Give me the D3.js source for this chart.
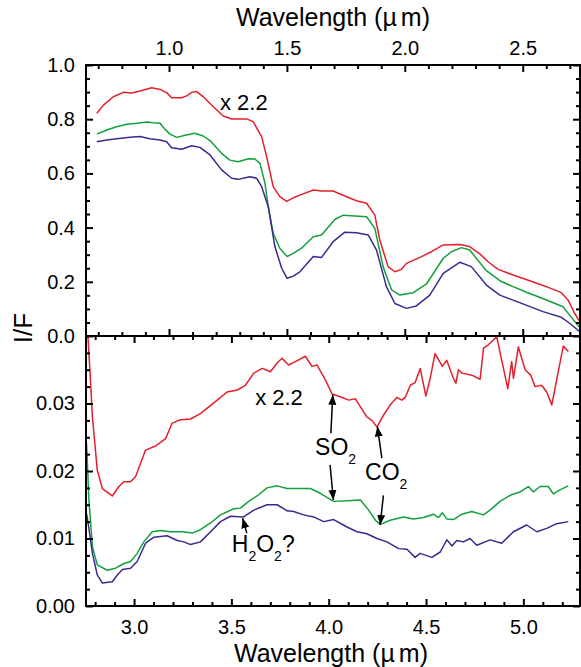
<!DOCTYPE html>
<html><head><meta charset="utf-8">
<script src="https://cdn.jsdelivr.net/npm/d3@7"></script>
<style>
html,body{margin:0;padding:0;background:#fff;}
svg{display:block;font-family:"Liberation Sans",Arial,sans-serif;}
</style></head>
<body>
<svg id="chart" width="581" height="667"></svg>
<script>
// ---------- DATA ----------
// Top panel (0.65 - 2.74 µm)
const topRedWl = [0.694,0.722,0.764,0.806,0.842,0.877,0.927,0.962,0.990,1.011,1.054,1.075,1.096,1.117,1.145,1.188,1.230,1.266,1.329,1.357,1.393,1.414,1.442,1.470,1.499,1.527,1.555,1.612,1.647,1.696,1.753,1.795,1.838,1.873,1.894,1.929,1.958,1.986,2.007,2.064,2.113,2.163,2.233,2.275,2.318,2.353,2.396,2.459,2.530,2.601,2.664,2.692,2.720,2.742];
const topRedVal = [0.822,0.852,0.883,0.899,0.897,0.904,0.916,0.910,0.898,0.879,0.879,0.886,0.899,0.902,0.883,0.846,0.812,0.801,0.801,0.791,0.735,0.662,0.551,0.514,0.497,0.510,0.520,0.539,0.535,0.535,0.514,0.499,0.490,0.446,0.354,0.256,0.237,0.246,0.268,0.290,0.311,0.336,0.338,0.330,0.303,0.274,0.246,0.225,0.204,0.182,0.160,0.133,0.084,0.053];

const topGreenWl = [0.694,0.736,0.778,0.821,0.863,0.906,0.933,0.962,0.983,1.004,1.033,1.068,1.110,1.145,1.174,1.223,1.258,1.294,1.336,1.364,1.386,1.407,1.421,1.442,1.470,1.501,1.527,1.562,1.612,1.647,1.703,1.739,1.838,1.873,1.908,1.944,1.979,2.036,2.092,2.163,2.198,2.240,2.275,2.346,2.403,2.459,2.530,2.601,2.671,2.699,2.727,2.745];
const topGreenVal = [0.745,0.760,0.772,0.781,0.785,0.790,0.787,0.785,0.763,0.745,0.733,0.741,0.748,0.738,0.721,0.674,0.649,0.643,0.654,0.653,0.637,0.563,0.477,0.379,0.324,0.293,0.305,0.324,0.366,0.373,0.430,0.446,0.440,0.397,0.256,0.170,0.151,0.160,0.192,0.287,0.311,0.326,0.317,0.241,0.204,0.182,0.157,0.133,0.108,0.077,0.047,0.030];

const topBlueWl = [0.694,0.736,0.778,0.835,0.877,0.919,0.962,0.990,1.011,1.054,1.096,1.131,1.174,1.223,1.266,1.294,1.343,1.372,1.393,1.421,1.449,1.478,1.501,1.527,1.555,1.612,1.647,1.696,1.746,1.795,1.845,1.880,1.922,1.958,2.007,2.049,2.106,2.163,2.233,2.282,2.346,2.403,2.487,2.586,2.664,2.699,2.742];
const topBlueVal = [0.717,0.723,0.728,0.733,0.736,0.728,0.723,0.717,0.695,0.689,0.702,0.696,0.668,0.613,0.582,0.578,0.588,0.582,0.551,0.477,0.330,0.250,0.213,0.221,0.237,0.293,0.290,0.348,0.383,0.381,0.373,0.317,0.182,0.120,0.102,0.111,0.151,0.231,0.272,0.256,0.188,0.151,0.123,0.090,0.069,0.047,0.016];

// Bottom panel (2.75 - 5.29 µm)
const botRedWl = [2.758,2.763,2.773,2.786,2.811,2.837,2.888,2.922,2.948,2.982,3.008,3.059,3.110,3.162,3.196,3.239,3.290,3.341,3.384,3.427,3.478,3.530,3.572,3.615,3.658,3.700,3.735,3.760,3.794,3.829,3.880,3.914,3.940,3.983,4.017,4.060,4.102,4.137,4.163,4.196,4.222,4.248,4.282,4.316,4.350,4.376,4.393,4.419,4.444,4.470,4.499,4.521,4.546,4.584,4.606,4.641,4.653,4.667,4.684,4.735,4.778,4.795,4.820,4.863,4.889,4.920,4.940,4.949,4.974,5.009,5.038,5.060,5.094,5.120,5.146,5.205,5.231];
const botRedVal = [0.0420,0.0399,0.0350,0.0280,0.0201,0.0174,0.0163,0.0177,0.0184,0.0184,0.0192,0.0231,0.0237,0.0248,0.0271,0.0276,0.0277,0.0285,0.0295,0.0305,0.0317,0.0320,0.0327,0.0345,0.0352,0.0347,0.0360,0.0367,0.0357,0.0362,0.0370,0.0355,0.0357,0.0335,0.0314,0.0310,0.0305,0.0307,0.0295,0.0280,0.0275,0.0265,0.0283,0.0298,0.0309,0.0305,0.0309,0.0327,0.0331,0.0352,0.0311,0.0337,0.0374,0.0355,0.0364,0.0337,0.0330,0.0350,0.0345,0.0342,0.0336,0.0382,0.0387,0.0399,0.0364,0.0322,0.0362,0.0337,0.0384,0.0350,0.0342,0.0325,0.0327,0.0317,0.0298,0.0385,0.0377];

const botGreenWl = [2.756,2.768,2.786,2.811,2.862,2.905,2.948,2.982,3.016,3.050,3.093,3.136,3.187,3.247,3.299,3.341,3.393,3.444,3.512,3.546,3.589,3.632,3.683,3.735,3.786,3.837,3.906,3.957,4.025,4.094,4.163,4.205,4.240,4.265,4.316,4.384,4.436,4.487,4.538,4.564,4.584,4.607,4.641,4.684,4.735,4.795,4.829,4.880,4.932,4.983,5.026,5.051,5.086,5.128,5.154,5.188,5.231];
const botGreenVal = [0.0241,0.0157,0.0088,0.0061,0.0053,0.0056,0.0063,0.0066,0.0078,0.0095,0.0110,0.0112,0.0110,0.0110,0.0108,0.0113,0.0123,0.0135,0.0144,0.0145,0.0155,0.0163,0.0175,0.0178,0.0174,0.0174,0.0174,0.0167,0.0155,0.0156,0.0157,0.0142,0.0127,0.0121,0.0127,0.0132,0.0129,0.0131,0.0136,0.0131,0.0138,0.0129,0.0128,0.0136,0.0140,0.0135,0.0142,0.0155,0.0164,0.0169,0.0177,0.0169,0.0177,0.0177,0.0166,0.0172,0.0178];

const botBlueWl = [2.756,2.768,2.786,2.811,2.837,2.888,2.914,2.940,2.982,3.016,3.059,3.102,3.170,3.222,3.256,3.290,3.341,3.393,3.444,3.495,3.563,3.615,3.683,3.735,3.786,3.820,3.871,3.923,3.974,4.025,4.094,4.145,4.196,4.248,4.299,4.359,4.402,4.444,4.470,4.530,4.573,4.607,4.633,4.658,4.692,4.726,4.761,4.829,4.889,4.949,5.017,5.069,5.120,5.171,5.231];
const botBlueVal = [0.0137,0.0115,0.0078,0.0046,0.0034,0.0036,0.0046,0.0054,0.0056,0.0066,0.0093,0.0102,0.0104,0.0097,0.0095,0.0091,0.0095,0.0110,0.0125,0.0133,0.0132,0.0142,0.0150,0.0150,0.0141,0.0140,0.0135,0.0132,0.0125,0.0128,0.0117,0.0110,0.0107,0.0100,0.0095,0.0085,0.0084,0.0072,0.0078,0.0072,0.0080,0.0098,0.0089,0.0097,0.0095,0.0100,0.0090,0.0098,0.0093,0.0110,0.0120,0.0110,0.0115,0.0122,0.0125];

// Ticks
const topXMajor = [1.0,1.5,2.0,2.5];
const topXLabels = ["1.0","1.5","2.0","2.5"];
const topXMinor = [0.7,0.8,0.9,1.1,1.2,1.3,1.4,1.6,1.7,1.8,1.9,2.1,2.2,2.3,2.4,2.6,2.7];
const botXMajor = [3.0,3.5,4.0,4.5,5.0];
const botXLabels = ["3.0","3.5","4.0","4.5","5.0"];
const botXMinor = [2.8,2.9,3.1,3.2,3.3,3.4,3.6,3.7,3.8,3.9,4.1,4.2,4.3,4.4,4.6,4.7,4.8,4.9,5.1,5.2];
const topYMajor = [0,0.2,0.4,0.6,0.8,1.0];
const topYLabels = ["0.0","0.2","0.4","0.6","0.8","1.0"];
const topYMinor = [0.05,0.1,0.15,0.25,0.3,0.35,0.45,0.5,0.55,0.65,0.7,0.75,0.85,0.9,0.95];
const botYMajor = [0,0.01,0.02,0.03];
const botYLabels = ["0.00","0.01","0.02","0.03"];
const botYMinor = [0.0025,0.005,0.0075,0.0125,0.015,0.0175,0.0225,0.025,0.0275,0.0325,0.035,0.0375];

const colors = {red:"#e3202b", green:"#13a03c", blue:"#3a2a8c"};

// ---------- LAYOUT ----------
const L=86, R=580, T=65, M=336, B=606;
const svg = d3.select("#chart");
const xTop = d3.scaleLinear([0.648,2.743],[L,R]);
const xBot = d3.scaleLinear([2.753,5.291],[L,R]);
const yTop = d3.scaleLinear([0,1],[M,T]);
const yBot = d3.scaleLinear([0,0.04],[B,M]);

const defs = svg.append("defs");
defs.append("clipPath").attr("id","clipTop").append("rect").attr("x",L).attr("y",T).attr("width",R-L).attr("height",M-T);
defs.append("clipPath").attr("id","clipBot").append("rect").attr("x",L).attr("y",M).attr("width",R-L).attr("height",B-M);
defs.append("marker").attr("id","arrow").attr("viewBox","0 0 10 10").attr("refX",10).attr("refY",5)
  .attr("markerWidth",10).attr("markerHeight",10).attr("markerUnits","userSpaceOnUse").attr("orient","auto")
  .append("path").attr("d","M0,1 L10,5 L0,9 Z").attr("fill","#000");

function drawLine(clip, xs, ys, wl, val, col){
  const data = wl.map((w,i)=>[w,val[i]]);
  svg.append("path").datum(data).attr("clip-path",`url(#${clip})`)
    .attr("fill","none").attr("stroke",col).attr("stroke-width",1.5).attr("stroke-linejoin","round")
    .attr("d", d3.line().x(d=>xs(d[0])).y(d=>ys(d[1])));
}
drawLine("clipTop", xTop, yTop, topRedWl, topRedVal, colors.red);
drawLine("clipTop", xTop, yTop, topGreenWl, topGreenVal, colors.green);
drawLine("clipTop", xTop, yTop, topBlueWl, topBlueVal, colors.blue);
drawLine("clipBot", xBot, yBot, botRedWl, botRedVal, colors.red);
drawLine("clipBot", xBot, yBot, botGreenWl, botGreenVal, colors.green);
drawLine("clipBot", xBot, yBot, botBlueWl, botBlueVal, colors.blue);

// ---------- AXES ----------
function styleAxis(g){
  g.select(".domain").remove();
  g.selectAll(".tick line").attr("stroke","#000").attr("stroke-width",2);
  g.selectAll(".tick text").attr("fill","#000").style("font-size","20px").style("font-family",'"Liberation Sans",Arial,sans-serif');
}
function addAxis(axis, tx, ty){
  svg.append("g").attr("transform",`translate(${tx},${ty})`).call(axis).call(styleAxis);
}
const MJ=7, MN=4;
addAxis(d3.axisTop(xTop).tickValues(topXMajor).tickFormat((d,i)=>topXLabels[i]).tickSize(-MJ).tickPadding(10).tickSizeOuter(0),0,T);
addAxis(d3.axisTop(xTop).tickValues(topXMinor).tickFormat("").tickSize(-MN).tickSizeOuter(0),0,T);
addAxis(d3.axisBottom(xTop).tickValues(topXMajor).tickFormat("").tickSize(-MJ).tickSizeOuter(0),0,M);
addAxis(d3.axisBottom(xTop).tickValues(topXMinor).tickFormat("").tickSize(-MN).tickSizeOuter(0),0,M);
addAxis(d3.axisTop(xBot).tickValues(botXMajor).tickFormat("").tickSize(-MJ).tickSizeOuter(0),0,M);
addAxis(d3.axisTop(xBot).tickValues(botXMinor).tickFormat("").tickSize(-MN).tickSizeOuter(0),0,M);
addAxis(d3.axisBottom(xBot).tickValues(botXMajor).tickFormat((d,i)=>botXLabels[i]).tickSize(-MJ).tickPadding(14).tickSizeOuter(0),0,B);
addAxis(d3.axisBottom(xBot).tickValues(botXMinor).tickFormat("").tickSize(-MN).tickSizeOuter(0),0,B);
addAxis(d3.axisLeft(yTop).tickValues(topYMajor).tickFormat((d,i)=>topYLabels[i]).tickSize(-MJ).tickPadding(11).tickSizeOuter(0),L,0);
addAxis(d3.axisLeft(yTop).tickValues(topYMinor).tickFormat("").tickSize(-MN).tickSizeOuter(0),L,0);
addAxis(d3.axisLeft(yBot).tickValues(botYMajor).tickFormat((d,i)=>botYLabels[i]).tickSize(-MJ).tickPadding(11).tickSizeOuter(0),L,0);
addAxis(d3.axisLeft(yBot).tickValues(botYMinor).tickFormat("").tickSize(-MN).tickSizeOuter(0),L,0);
addAxis(d3.axisRight(yTop).tickValues(topYMajor).tickFormat("").tickSize(-MJ).tickSizeOuter(0),R,0);
addAxis(d3.axisRight(yTop).tickValues(topYMinor).tickFormat("").tickSize(-MN).tickSizeOuter(0),R,0);
addAxis(d3.axisRight(yBot).tickValues(botYMajor).tickFormat("").tickSize(-MJ).tickSizeOuter(0),R,0);
addAxis(d3.axisRight(yBot).tickValues(botYMinor).tickFormat("").tickSize(-MN).tickSizeOuter(0),R,0);

// frames
svg.append("rect").attr("x",L).attr("y",T).attr("width",R-L).attr("height",B-T)
  .attr("fill","none").attr("stroke","#000").attr("stroke-width",2);
svg.append("line").attr("x1",L).attr("x2",R).attr("y1",M).attr("y2",M).attr("stroke","#000").attr("stroke-width",2);

// titles
function wlTitle(x,y){
  const t = svg.append("text").attr("x",x).attr("y",y).attr("text-anchor","middle")
    .style("font-size","25px").attr("fill","#000");
  t.append("tspan").text("Wavelength (µ");
  t.append("tspan").attr("dx",4).text("m)");
}
wlTitle(333,26);
wlTitle(331,662);
svg.append("text").attr("transform","translate(32,328) rotate(-90)").attr("text-anchor","middle")
  .style("font-size","26px").attr("fill","#000").text("I/F");

// ---------- ANNOTATIONS ----------
const annFont = "23px";
svg.append("text").attr("x",xTop(1.216)).attr("y",yTop(0.834)).style("font-size","22px").attr("fill","#000").text("x 2.2");
svg.append("text").attr("x",xBot(3.622)).attr("y",yBot(0.0298)).style("font-size","22px").attr("fill","#000").text("x 2.2");

function subText(x,y,parts){
  const t = svg.append("text").attr("x",x).attr("y",y).style("font-size",annFont).attr("fill","#000");
  let shifted = false;
  parts.forEach(p=>{
    const sp = t.append("tspan").text(p.s);
    if(p.sub){ sp.attr("dy",9).style("font-size","14px"); shifted = true; }
    else if(shifted){ sp.attr("dy",-9); shifted = false; }
  });
}
subText(xBot(3.930), yBot(0.0224), [{s:"SO"},{s:"2",sub:true}]);
subText(xBot(4.187), yBot(0.0187), [{s:"CO"},{s:"2",sub:true}]);
subText(xBot(3.502), yBot(0.0080), [{s:"H"},{s:"2",sub:true},{s:"O"},{s:"2",sub:true},{s:"?"}]);

const arrowFrom = [[4.011,0.0256],[4.007,0.0209],[4.273,0.0219],[4.281,0.0164],[3.579,0.0108]];
const arrowTo   = [[4.021,0.0313],[4.024,0.0157],[4.250,0.0266],[4.264,0.0120],[3.558,0.0130]];
arrowFrom.forEach((f,i)=>{
  svg.append("line").attr("x1",xBot(f[0])).attr("y1",yBot(f[1]))
    .attr("x2",xBot(arrowTo[i][0])).attr("y2",yBot(arrowTo[i][1]))
    .attr("stroke","#000").attr("stroke-width",1.5).attr("marker-end","url(#arrow)");
});
</script>
</body></html>
